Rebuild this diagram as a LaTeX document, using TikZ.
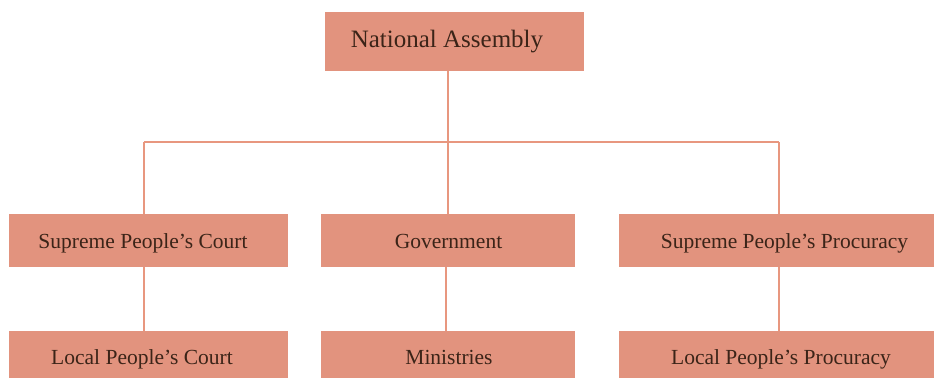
\documentclass[tikz,border=0pt]{standalone}
\usepackage{fontspec}
\setmainfont{Liberation Serif}
\definecolor{boxfill}{HTML}{E2937E}
\definecolor{linec}{HTML}{E8977F}
\definecolor{txt}{HTML}{3B2418}
\begin{document}
\begin{tikzpicture}[x=1pt,y=-1pt,
  box/.style={draw=none,fill=boxfill,inner sep=0pt,outer sep=0pt},
  lbl/.style={text=txt,inner sep=0pt,anchor=base,font=\fontsize{21.5}{24}\selectfont},
  biglbl/.style={text=txt,inner sep=0pt,anchor=base,font=\fontsize{25}{28}\selectfont},
  conn/.style={draw=linec,line width=2pt}]
\useasboundingbox (0,0) rectangle (935,378);
% boxes
\node[box,minimum width=259pt,minimum height=59pt] (na) at (454.5,41.5) {};
\node[box,minimum width=279pt,minimum height=53pt] (spc) at (148.5,240.5) {};
\node[box,minimum width=254pt,minimum height=53pt] (gov) at (448,240.5) {};
\node[box,minimum width=315pt,minimum height=53pt] (spp) at (776.5,240.5) {};
\node[box,minimum width=279pt,minimum height=47pt] (lpc) at (148.5,354.5) {};
\node[box,minimum width=254pt,minimum height=47pt] (min) at (448,354.5) {};
\node[box,minimum width=315pt,minimum height=47pt] (lpp) at (776.5,354.5) {};
% labels
\node[biglbl] (tna) at (447,47) {National Assembly};
\node[lbl] (tspc) at (143,248.5) {Supreme People’s Court};
\node[lbl] (tgov) at (448.5,248.5) {Government};
\node[lbl] (tspp) at (784.5,248.5) {Supreme People’s Procuracy};
\node[lbl] (tlpc) at (142,364.5) {Local People’s Court};
\node[lbl] (tmin) at (449,364.5) {Ministries};
\node[lbl] (tlpp) at (781,364.5) {Local People’s Procuracy};
% junctions
\coordinate (jc) at (448,142);
\coordinate (jl) at (144,142);
\coordinate (jr) at (779,142);
\coordinate (ml) at (144,300);
\coordinate (mc) at (446,300);
\coordinate (mr) at (779,300);
% connectors
\draw[conn] (na.south -| jc) -- (gov.north -| jc);
\draw[conn] (jl) -- (jr);
\draw[conn] (jl) -- (spc.north -| jl);
\draw[conn] (jr) -- (spp.north -| jr);
\draw[conn] (spc.south -| ml) -- (lpc.north -| ml);
\draw[conn] (gov.south -| mc) -- (min.north -| mc);
\draw[conn] (spp.south -| mr) -- (lpp.north -| mr);
\end{tikzpicture}
\end{document}
